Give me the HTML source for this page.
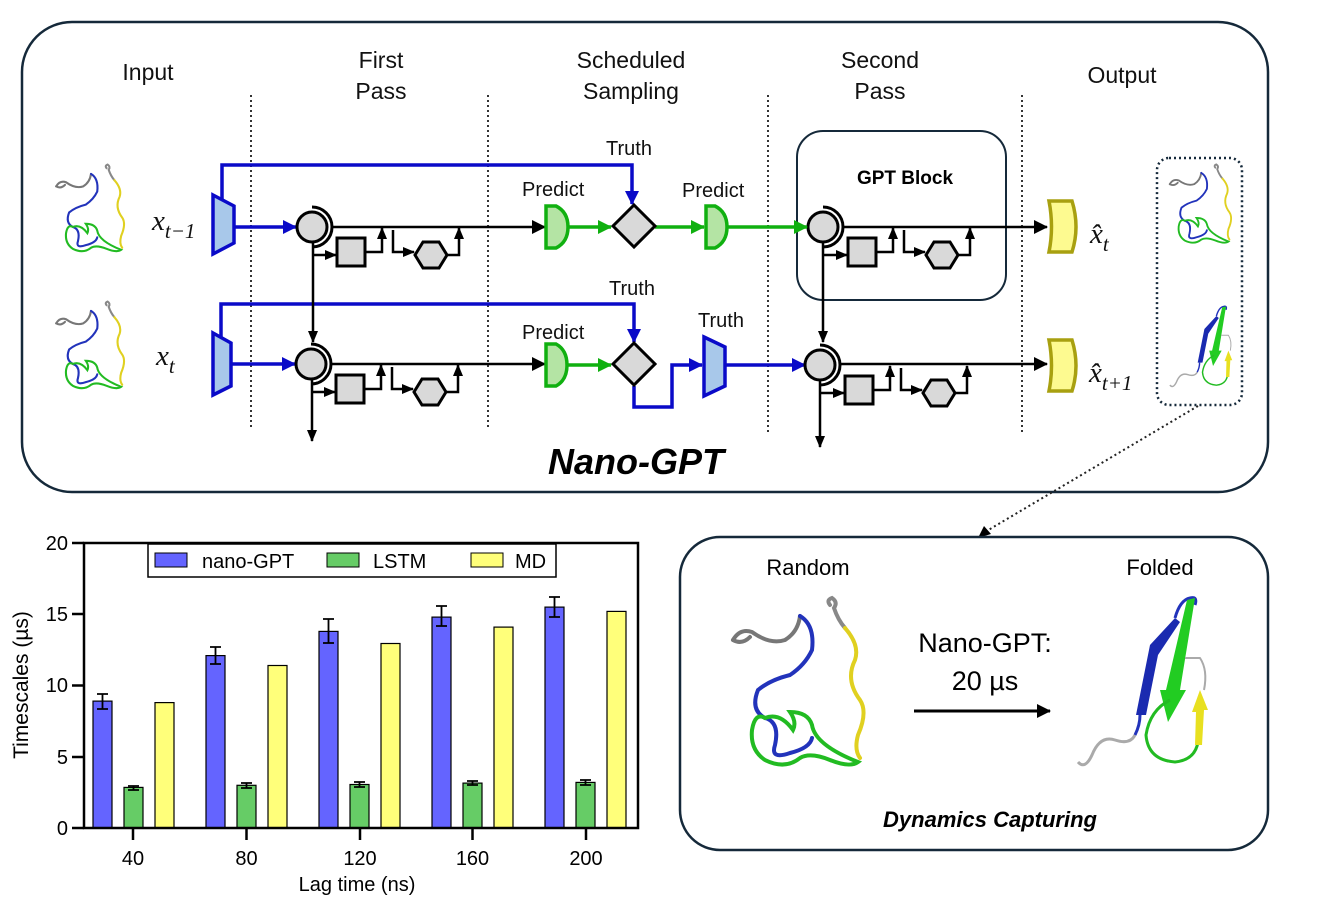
<!DOCTYPE html>
<html><head><meta charset="utf-8"><style>
body{margin:0;background:#fff;}
svg{display:block;font-family:"Liberation Sans",sans-serif;}
</style></head><body>
<svg width="1328" height="919" viewBox="0 0 1328 919" xmlns="http://www.w3.org/2000/svg">
<defs>
<marker id="ak" markerWidth="12" markerHeight="12" refX="11" refY="6" orient="auto" markerUnits="userSpaceOnUse"><path d="M0,1 L12,6 L0,11 z" fill="#000"/></marker>
<marker id="ab" markerWidth="14" markerHeight="14" refX="13" refY="7" orient="auto" markerUnits="userSpaceOnUse"><path d="M0,0 L14,7 L0,14 z" fill="#0a0ac8"/></marker>
<marker id="ag" markerWidth="14" markerHeight="14" refX="13" refY="7" orient="auto" markerUnits="userSpaceOnUse"><path d="M0,0 L14,7 L0,14 z" fill="#10b010"/></marker>
<marker id="ad" markerWidth="14" markerHeight="14" refX="13" refY="7" orient="auto" markerUnits="userSpaceOnUse"><path d="M0,0 L14,7 L0,14 z" fill="#000"/></marker>
<g id="blk">
 <path d="M0,-20 A20,20 0 0 1 0,20" fill="none" stroke="#000" stroke-width="3"/>
 <circle cx="0" cy="0" r="15" fill="#d9d9d9" stroke="#000" stroke-width="3"/>
 <path d="M1,28 H24" stroke="#000" stroke-width="2.5" marker-end="url(#ak)"/>
 <rect x="25" y="11" width="28" height="28" fill="#d9d9d9" stroke="#000" stroke-width="3"/>
 <path d="M53,25 H70 V1" fill="none" stroke="#000" stroke-width="2.5" marker-end="url(#ak)"/>
 <path d="M81,3 V25 H102" fill="none" stroke="#000" stroke-width="2.5" marker-end="url(#ak)"/>
 <polygon points="103,28 111,15 127,15 135,28 127,41 111,41" fill="#d9d9d9" stroke="#000" stroke-width="3"/>
 <path d="M135,28 H147 V1" fill="none" stroke="#000" stroke-width="2.5" marker-end="url(#ak)"/>
</g>
<g id="rand" fill="none" stroke-linecap="round" stroke-width="4">
 <path d="M733,640 Q740,628 752,632 Q770,645 785,640 Q798,632 800,616" stroke="#777"/>
 <path d="M733,640 Q742,645 750,637" stroke="#777"/>
 <path d="M800,616 Q815,625 812,650 Q805,665 790,675 Q770,680 758,690 Q750,710 765,718 Q780,722 775,745 Q770,760 790,753 Q810,748 812,738" stroke="#2233bb"/>
 <path d="M765,718 Q755,712 752,730 Q750,750 765,760 Q785,770 800,758 Q810,752 830,760 Q850,768 858,762 Q815,745 812,725 Q808,712 790,712 Q797,722 793,730 Q780,712 765,718" stroke="#22bb22"/>
 <path d="M830,605 Q826,600 832,598 Q838,602 834,608 Q838,620 845,628" stroke="#888"/>
 <path d="M845,628 Q860,645 855,660 Q845,680 860,700 Q868,712 858,735 Q854,750 860,758" stroke="#e0d020"/>
</g>
<g id="fold" stroke-linejoin="round">
 <path d="M1078,762 Q1085,770 1092,755 Q1100,735 1115,740 Q1130,745 1135,735" fill="none" stroke="#aaa" stroke-width="3"/>
 <path d="M1135,735 Q1140,725 1140,715" fill="none" stroke="#2233bb" stroke-width="3"/>
 <polygon points="1136,715 1146,715 1158,655 1180,622 1175,618 1150,645" fill="#1a2ab0"/>
 <path d="M1175,618 Q1180,600 1190,598 Q1198,596 1195,605" fill="none" stroke="#2233bb" stroke-width="3"/>
 <polygon points="1187,600 1195,598 1180,690 1186,690 1168,722 1160,690 1166,690" fill="#22cc22"/>
 <path d="M1170,700 Q1150,710 1146,735 Q1148,760 1175,762 Q1195,760 1198,742" fill="none" stroke="#22bb22" stroke-width="3"/>
 <polygon points="1195,745 1202,745 1204,710 1208,710 1200,690 1192,712 1196,712" fill="#e8e020"/>
 <path d="M1185,658 H1200 Q1208,670 1204,690" fill="none" stroke="#aaa" stroke-width="2"/>
</g>
</defs>

<rect x="22" y="22" width="1246" height="470" rx="50" fill="none" stroke="#15293a" stroke-width="2.5"/>
<g stroke="#333" stroke-width="2" stroke-dasharray="2,3">
<line x1="251" y1="95" x2="251" y2="430"/><line x1="488" y1="95" x2="488" y2="430"/>
<line x1="768" y1="95" x2="768" y2="435"/><line x1="1022" y1="95" x2="1022" y2="435"/>
</g>
<g font-size="23" text-anchor="middle" fill="#111">
<text x="148" y="80">Input</text>
<text x="381" y="68">First</text><text x="381" y="99">Pass</text>
<text x="631" y="68">Scheduled</text><text x="631" y="99">Sampling</text>
<text x="880" y="68">Second</text><text x="880" y="99">Pass</text>
<text x="1122" y="83">Output</text>
</g>
<g font-size="20" fill="#111">
<text x="606" y="155">Truth</text><text x="609" y="295">Truth</text><text x="698" y="327">Truth</text>
<text x="522" y="196">Predict</text><text x="522" y="339">Predict</text><text x="682" y="197">Predict</text>
</g>
<rect x="797" y="131" width="209" height="169" rx="26" fill="none" stroke="#15293a" stroke-width="2"/>
<text x="905" y="184" font-size="19" font-weight="bold" text-anchor="middle">GPT Block</text>

<use href="#rand" transform="translate(52,163) scale(0.52) translate(-725,-595)"/>
<use href="#rand" transform="translate(52,300) scale(0.52) translate(-725,-595)"/>
<use href="#rand" transform="translate(1166,163) scale(0.47) translate(-725,-595)"/>
<use href="#fold" transform="translate(1166,305) scale(0.48) translate(-1070,-595)"/>
<rect x="1157" y="158" width="85" height="247" rx="12" fill="none" stroke="#15293a" stroke-width="2.5" stroke-dasharray="2,3"/>

<g font-family="'Liberation Serif',serif" font-style="italic" fill="#111">
<text x="152" y="230" font-size="29">x<tspan font-size="21" dy="8">t−1</tspan></text>
<text x="156" y="365" font-size="29">x<tspan font-size="21" dy="8">t</tspan></text>
<text x="1090" y="243" font-size="29">x̂<tspan font-size="21" dy="8">t</tspan></text>
<text x="1089" y="382" font-size="29">x̂<tspan font-size="21" dy="8">t+1</tspan></text>
</g>

<g fill="none" stroke="#0a0ac8" stroke-width="3.5">
<path d="M222,202 V165 H632 V204" marker-end="url(#ab)"/>
<path d="M221,340 V304 H634 V342" marker-end="url(#ab)"/>
<path d="M235,227 H296" marker-end="url(#ab)"/>
<path d="M232,364 H295" marker-end="url(#ab)"/>
<path d="M634,386 V407 H672 V365 H702" marker-end="url(#ab)"/>
<path d="M726,365 H805" marker-end="url(#ab)"/>
</g>
<polygon points="213,195 234,206 234,243 213,254" fill="#a8c8ea" stroke="#0a0ac8" stroke-width="3.5"/>
<polygon points="213,333 231,343 231,386 213,395" fill="#a8c8ea" stroke="#0a0ac8" stroke-width="3.5"/>
<polygon points="704,337 725,347 725,386 704,396" fill="#a8c8ea" stroke="#0a0ac8" stroke-width="3.5"/>

<g fill="none" stroke="#000" stroke-width="2.5">
<path d="M332,227 H545" marker-end="url(#ad)"/>
<path d="M332,364 H545" marker-end="url(#ad)"/>
<path d="M843,227 H1047" marker-end="url(#ad)"/>
<path d="M840,364 H1047" marker-end="url(#ad)"/>
<path d="M313,242 V342" marker-end="url(#ak)"/>
<path d="M312,379 V441" marker-end="url(#ak)"/>
<path d="M823,242 V342" marker-end="url(#ak)"/>
<path d="M820,380 V447" marker-end="url(#ak)"/>
</g>
<use href="#blk" transform="translate(312,227)"/>
<use href="#blk" transform="translate(311,364)"/>
<use href="#blk" transform="translate(823,227)"/>
<use href="#blk" transform="translate(820,365)"/>

<g fill="none" stroke="#10b010" stroke-width="3.5">
<path d="M567,227 H611" marker-end="url(#ag)"/>
<path d="M567,365 H611" marker-end="url(#ag)"/>
<path d="M655,227 H704" marker-end="url(#ag)"/>
<path d="M727,227 H807" marker-end="url(#ag)"/>
</g>
<path d="M546,206 H556 Q568,212 568,227 Q568,242 556,248 H546 Z" fill="#b4e4a4" stroke="#10b010" stroke-width="3.5"/>
<path d="M546,344 H556 Q567,350 567,365 Q567,380 556,386 H546 Z" fill="#b4e4a4" stroke="#10b010" stroke-width="3.5"/>
<path d="M706,206 H715 Q727,212 727,227 Q727,242 715,248 H706 Z" fill="#b4e4a4" stroke="#10b010" stroke-width="3.5"/>
<polygon points="634,205 655,226 634,247 613,226" fill="#d9d9d9" stroke="#000" stroke-width="3"/>
<polygon points="634,343 655,364 634,385 613,364" fill="#d9d9d9" stroke="#000" stroke-width="3"/>
<path d="M1049,201 H1072 Q1080,227 1072,252 H1049 Q1054,227 1049,201 Z" fill="#fdfa90" stroke="#a8a010" stroke-width="3.5"/>
<path d="M1049,340 H1072 Q1080,366 1072,391 H1049 Q1054,366 1049,340 Z" fill="#fdfa90" stroke="#a8a010" stroke-width="3.5"/>

<text x="636" y="474" font-size="36" font-weight="bold" font-style="italic" text-anchor="middle">Nano-GPT</text>

<path d="M1198,406 L985,532" stroke="#222" stroke-width="2" stroke-dasharray="2,3" fill="none"/>
<polygon points="978,538 984,526 991,534" fill="#000"/>

<rect x="680" y="537" width="588" height="313" rx="40" fill="none" stroke="#15293a" stroke-width="2.5"/>
<text x="808" y="575" font-size="22" text-anchor="middle">Random</text>
<text x="1160" y="575" font-size="22" text-anchor="middle">Folded</text>
<text x="985" y="652" font-size="27" text-anchor="middle">Nano-GPT:</text>
<text x="985" y="690" font-size="27" text-anchor="middle">20 µs</text>
<path d="M914,711 H1050" stroke="#000" stroke-width="3" marker-end="url(#ad)"/>
<text x="990" y="827" font-size="22" font-weight="bold" font-style="italic" text-anchor="middle">Dynamics Capturing</text>
<use href="#rand"/>
<use href="#fold"/>

<g>
<g stroke="#000" stroke-width="1.2">
<rect x="93" y="701.1" width="19" height="126.9" fill="#6464ff"/>
<rect x="124" y="787.4" width="19" height="40.6" fill="#66cc66"/>
<rect x="155" y="702.6" width="19" height="125.4" fill="#ffff7a"/>
<rect x="206" y="655.6" width="19" height="172.4" fill="#6464ff"/>
<rect x="237" y="785.3" width="19" height="42.7" fill="#66cc66"/>
<rect x="268" y="665.5" width="19" height="162.5" fill="#ffff7a"/>
<rect x="319" y="631.4" width="19" height="196.6" fill="#6464ff"/>
<rect x="350" y="784.5" width="19" height="43.5" fill="#66cc66"/>
<rect x="381" y="643.5" width="19" height="184.5" fill="#ffff7a"/>
<rect x="432" y="617.1" width="19" height="210.9" fill="#6464ff"/>
<rect x="463" y="783.1" width="19" height="44.9" fill="#66cc66"/>
<rect x="494" y="627.1" width="19" height="200.9" fill="#ffff7a"/>
<rect x="545" y="607.1" width="19" height="220.9" fill="#6464ff"/>
<rect x="576" y="782.4" width="19" height="45.6" fill="#66cc66"/>
<rect x="607" y="611.4" width="19" height="216.6" fill="#ffff7a"/>
</g>
<g stroke="#000" stroke-width="1.8" fill="none">
<path d="M102.5,694 V709 M97,694 H108 M97,709 H108"/>
<path d="M215.5,647 V664 M210,647 H221 M210,664 H221"/>
<path d="M328.5,619 V643 M323,619 H334 M323,643 H334"/>
<path d="M441.5,606 V626 M436,606 H447 M436,626 H447"/>
<path d="M554.5,597 V617 M549,597 H560 M549,617 H560"/>
<path d="M133.5,786 V790 M128,786 H139 M128,790 H139"/>
<path d="M246.5,783 V788 M241,783 H252 M241,788 H252"/>
<path d="M359.5,782 V787 M354,782 H365 M354,787 H365"/>
<path d="M472.5,781 V785 M467,781 H478 M467,785 H478"/>
<path d="M585.5,780 V785 M580,780 H591 M580,785 H591"/>
</g>
<rect x="84" y="543" width="554" height="285" fill="none" stroke="#000" stroke-width="2.5"/>
<g stroke="#000" stroke-width="2.5">
<path d="M72,543 H84 M72,614 H84 M72,685.5 H84 M72,757 H84 M72,828 H84"/>
<path d="M133,828 V840 M246.5,828 V840 M360,828 V840 M472.5,828 V840 M586,828 V840"/>
</g>
<g font-size="20" text-anchor="end">
<text x="68" y="550">20</text><text x="68" y="621">15</text><text x="68" y="692">10</text><text x="68" y="764">5</text><text x="68" y="835">0</text>
</g>
<g font-size="20" text-anchor="middle">
<text x="133" y="865">40</text><text x="246.5" y="865">80</text><text x="360" y="865">120</text><text x="472.5" y="865">160</text><text x="586" y="865">200</text>
<text x="357" y="891">Lag time (ns)</text>
</g>
<text transform="translate(28,685) rotate(-90)" font-size="21" text-anchor="middle">Timescales (µs)</text>
<rect x="148" y="544" width="408" height="33" fill="#fff" stroke="#000" stroke-width="1.5"/>
<rect x="155" y="553" width="32" height="14" fill="#6464ff" stroke="#000"/>
<text x="202" y="568" font-size="20">nano-GPT</text>
<rect x="327" y="553" width="32" height="14" fill="#66cc66" stroke="#000"/>
<text x="373" y="568" font-size="20">LSTM</text>
<rect x="471" y="553" width="32" height="14" fill="#ffff7a" stroke="#000"/>
<text x="515" y="568" font-size="20">MD</text>
</g>
</svg>
</body></html>
